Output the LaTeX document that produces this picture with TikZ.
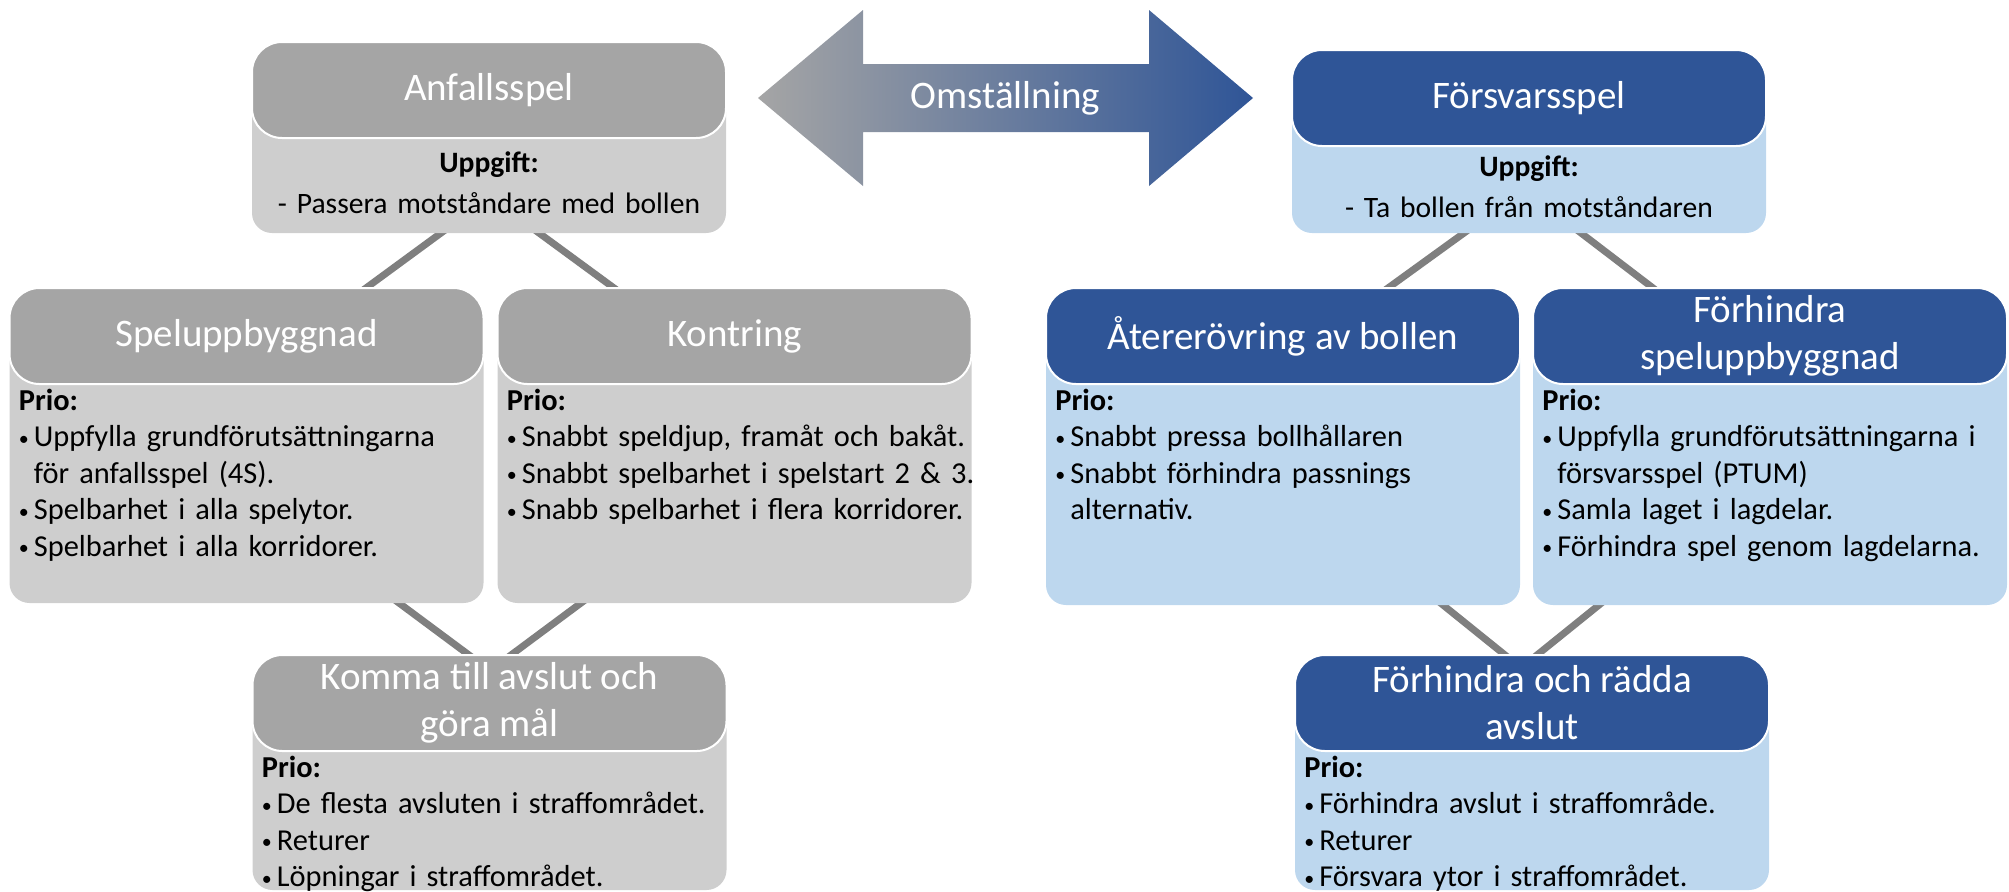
\documentclass[tikz,border=0pt]{standalone}
\usepackage{fontspec}
\setmainfont{Carlito}
\usepackage{tikz}
\usetikzlibrary{calc,backgrounds}
\definecolor{headgray}{HTML}{A5A5A5}
\definecolor{bodygray}{HTML}{CECECE}
\definecolor{headblue}{HTML}{2F5597}
\definecolor{bodyblue}{HTML}{BDD7EE}
\definecolor{linkgray}{HTML}{7F7F7F}
\newcommand{\bul}{\makebox[7.5pt][l]{\raisebox{0.8pt}{\fontsize{10pt}{10pt}\selectfont\textbullet}}}

\begin{document}
\begin{tikzpicture}[x=0.5pt,y=-0.5pt,
  head/.style={rounded corners=15pt,draw=white,line width=1pt,minimum width=237pt,minimum height=48pt,inner sep=0pt,outer sep=0pt,align=center,text=white,font=\fontsize{19.5pt}{23.5pt}\selectfont},
  ghead/.style={head,fill=headgray},
  bhead/.style={head,fill=headblue},
  body/.style={rounded corners=10pt,minimum width=237pt,inner sep=0pt,outer sep=0pt},
  gbody/.style={body,fill=bodygray},
  bbody/.style={body,fill=bodyblue},
  prio/.style={anchor=base west,inner sep=0pt,text width=250pt,align=left,font=\fontsize{15.2pt}{18.3pt}\selectfont},
  task/.style={anchor=base,inner sep=0pt,text width=230pt,align=center,font=\fontsize{14.8pt}{20.5pt}\selectfont},
  link/.style={line width=3.5pt,linkgray,shorten <=-4pt,shorten >=-4pt}]
\useasboundingbox (0,0) rectangle (2009,891);

% omstaellning
\shade[left color=headgray,right color=headblue] (758,98) -- (863,10) -- (863,64) -- (1149,64) -- (1149,10) -- (1253,98)
  -- (1149,186) -- (1149,132) -- (863,132) -- (863,186) -- cycle;
\node[text=white,font=\fontsize{19.5pt}{23.5pt}\selectfont] (oms) at (1005.5,98) {Omställning};

% bodies
\node[gbody,minimum height=71.5pt] (anfB) at (489,161.5) {};
\node[bbody,minimum height=67.5pt] (forsB) at (1529,165.5) {};
\node[gbody,minimum height=133.5pt] (spelB) at (246.5,469.5) {};
\node[gbody,minimum height=133.5pt] (kontB) at (734.5,469.5) {};
\node[bbody,minimum height=134.5pt] (aterB) at (1283,470.5) {};
\node[bbody,minimum height=134.5pt] (forhB) at (1770,470.5) {};
\node[gbody,minimum height=93.5pt] (kommaB) at (489.5,796.5) {};
\node[bbody,minimum height=93.5pt] (raddB) at (1532,796.5) {};

% headers
\node[ghead] (anf) at (489,90) {Anfallsspel};
\node[bhead] (fors) at (1529,98) {Försvarsspel};
\node[ghead] (spel) at (246.5,336) {Speluppbyggnad};
\node[ghead] (kont) at (734.5,336) {Kontring};
\node[bhead] (ater) at (1283,336) {Återerövring av bollen};
\node[bhead] (forh) at (1770,336) {Förhindra\\speluppbyggnad};
\node[ghead] (komma) at (489.5,703) {Komma till avslut och\\göra mål};
\node[bhead] (radd) at (1532,703) {Förhindra och rädda\\avslut};

% texts
\node[task] (anfT) at ($(anf.south)+(0,34)$) {\textbf{Uppgift:}\\- Passera motståndare med bollen};
\node[task] (forsT) at ($(fors.south)+(0,30)$) {\textbf{Uppgift:}\\- Ta bollen från motståndaren};
\node[prio] (spelT) at ($(spel.south west)+(9,26)$) {\textbf{Prio:}\\
  \bul Uppfylla grundförutsättningarna\\ \hspace*{7.5pt}för anfallsspel (4S).\\
  \bul Spelbarhet i alla spelytor.\\ \bul Spelbarhet i alla korridorer.};
\node[prio] (kontT) at ($(kont.south west)+(9,26)$) {\textbf{Prio:}\\
  \bul Snabbt speldjup, framåt och bakåt.\\ \bul Snabbt spelbarhet i spelstart 2 \& 3.\\
  \bul Snabb spelbarhet i flera korridorer.};
\node[prio] (aterT) at ($(ater.south west)+(9,26)$) {\textbf{Prio:}\\
  \bul Snabbt pressa bollhållaren\\ \bul Snabbt förhindra passnings\\ \hspace*{7.5pt}alternativ.};
\node[prio] (forhT) at ($(forh.south west)+(9,26)$) {\textbf{Prio:}\\
  \bul Uppfylla grundförutsättningarna i\\ \hspace*{7.5pt}försvarsspel (PTUM)\\
  \bul Samla laget i lagdelar.\\ \bul Förhindra spel genom lagdelarna.};
\node[prio] (kommaT) at ($(komma.south west)+(9,26)$) {\textbf{Prio:}\\
  \bul De flesta avsluten i straffområdet.\\ \bul Returer\\ \bul Löpningar i straffområdet.};
\node[prio] (raddT) at ($(radd.south west)+(9,26)$) {\textbf{Prio:}\\
  \bul Förhindra avslut i straffområde.\\ \bul Returer\\ \bul Försvara ytor i straffområdet.};

% links
\begin{pgfonlayer}{background}
\draw[link] ($(anfB.south)+(-48,0)$) -- ($(spel.north)+(119.5,0)$);
\draw[link] ($(anfB.south)+(50,0)$) -- ($(kont.north)+(-120.5,0)$);
\draw[link] ($(forsB.south)+(-65,0)$) -- ($(ater.north)+(105,0)$);
\draw[link] ($(forsB.south)+(52,0)$) -- ($(forh.north)+(-117,0)$);
\draw[link] ($(spelB.south)+(152.5,0)$) -- ($(komma.north)+(-20.5,0)$);
\draw[link] ($(kontB.south)+(-153.5,0)$) -- ($(komma.north)+(21.5,0)$);
\draw[link] ($(aterB.south)+(160,0)$) -- ($(radd.north)+(-27,0)$);
\draw[link] ($(forhB.south)+(-171,0)$) -- ($(radd.north)+(5,0)$);
\end{pgfonlayer}
\end{tikzpicture}
\end{document}
